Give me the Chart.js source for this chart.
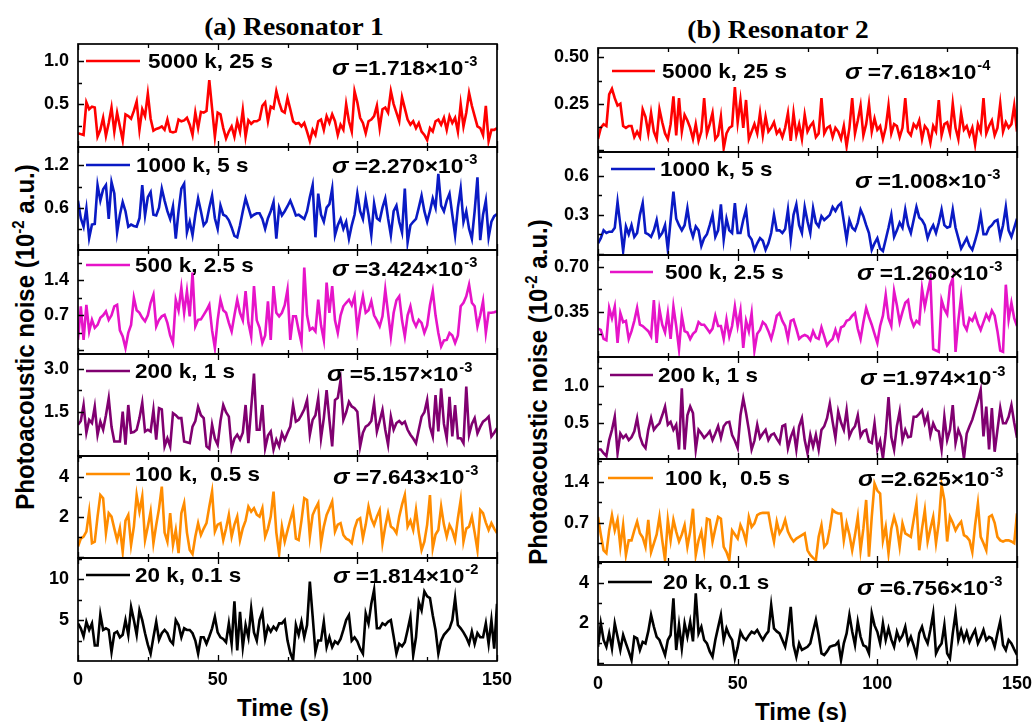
<!DOCTYPE html>
<html>
<head>
<meta charset="utf-8">
<script src="https://cdn.jsdelivr.net/npm/chart.js@4.4.1/dist/chart.umd.min.js"></script>
<style>
  html, body { margin: 0; padding: 0; background: #fff; }
  #fig { position: relative; width: 1033px; height: 722px; overflow: hidden; background: #fff; }
  #fig canvas { position: absolute; }
  .txt { position: absolute; white-space: nowrap; color: #000; font-family: "Liberation Sans", Arial, sans-serif; font-weight: bold; line-height: 1; }
  .ttl { font-family: "Liberation Serif", "Times New Roman", serif; font-size: 25px; transform: translate(-50%, -50%) scaleX(1.1); }
  .ylab { font-size: 24px; transform: translate(-50%, -50%) rotate(-90deg) scaleY(1.1); }
  .xlab { font-size: 23px; transform: translate(-50%, -50%) scaleX(1.05); }
  .sup { font-size: 15px; position: relative; top: -9px; }
</style>
</head>
<body>
<div id="fig">
  <div class="txt ttl" style="left:294px; top:26px;">(a) Resonator 1</div>
  <div class="txt ttl" style="left:778px; top:29px;">(b) Resonator 2</div>
  <div class="txt ylab" style="left:25px; top:337px;">Photoacoustic noise (10<span class="sup">-2</span> a.u.)</div>
  <div class="txt ylab" style="left:538px; top:392px;">Photoacoustic noise (10<span class="sup">-2</span> a.u.)</div>
  <div class="txt xlab" style="left:283px; top:708px;">Time (s)</div>
  <div class="txt xlab" style="left:801px; top:712px;">Time (s)</div>
</div>
<script>
// ---- time axis ----
const timeTicks = [0, 50, 100, 150];

// ---- series labels (sampling points, integration time) ----
const seriesNames = ['5000 k, 25 s', '1000 k, 5 s', '500 k, 2.5 s', '200 k, 1 s', '100 k,  0.5 s', '20 k, 0.1 s'];
const seriesColors = ['#FF0000', '#0A1AC4', '#E614C8', '#800070', '#FF8C00', '#000000'];

// ---- standard deviation annotations ----
const res1Sigma = ['1.718', '2.270', '3.424', '5.157', '7.643', '1.814'];
const res1SigmaExp = ['-3', '-3', '-3', '-3', '-3', '-2'];
const res2Sigma = ['7.618', '1.008', '1.260', '1.974', '2.625', '6.756'];
const res2SigmaExp = ['-4', '-3', '-3', '-3', '-3', '-3'];

// ---- y tick values / labels per panel (top to bottom) ----
const res1Ticks = [[0.5, 1.0], [0.6, 1.2], [0.7, 1.4], [1.5, 3.0], [2, 4], [5, 10]];
const res1TickLabels = [['0.5', '1.0'], ['0.6', '1.2'], ['0.7', '1.4'], ['1.5', '3.0'], ['2', '4'], ['5', '10']];
const res1Range = [[0, 1.2], [0, 1.46], [-0.07, 2.0], [0, 3.5], [-0.07, 5.03], [0, 12.6]];
const res2Ticks = [[0.25, 0.50], [0.3, 0.6], [0.35, 0.70], [0.5, 1.0], [0.7, 1.4], [2, 4]];
const res2TickLabels = [['0.25', '0.50'], ['0.3', '0.6'], ['0.35', '0.70'], ['0.5', '1.0'], ['0.7', '1.4'], ['2', '4']];
const res2Range = [[-0.01, 0.55], [-0.01, 0.785], [0, 0.79], [0, 1.4], [0.03, 1.79], [-0.08, 5.07]];

// ---- Resonator 1 noise traces (10^-2 a.u.), one value per second, 0..150 s ----
const r1_5000k = [
  0.16,0.15,0.14,0.52,0.44,0.47,0.46,0.12,0.20,0.34,
  0.13,0.28,0.46,0.18,0.40,0.24,0.08,0.38,0.36,0.33,
  0.42,0.53,0.20,0.44,0.36,0.62,0.33,0.19,0.21,0.22,
  0.24,0.20,0.32,0.18,0.17,0.18,0.32,0.30,0.31,0.34,
  0.26,0.14,0.40,0.22,0.41,0.40,0.42,0.78,0.45,0.12,
  0.40,0.38,0.22,0.10,0.18,0.24,0.12,0.30,0.18,0.43,
  0.12,0.31,0.27,0.30,0.30,0.32,0.48,0.52,0.30,0.47,
  0.45,0.65,0.52,0.42,0.40,0.57,0.44,0.30,0.27,0.28,
  0.24,0.28,0.18,0.07,0.20,0.14,0.30,0.32,0.20,0.36,
  0.28,0.38,0.30,0.14,0.26,0.20,0.50,0.30,0.18,0.65,
  0.52,0.34,0.28,0.16,0.30,0.32,0.36,0.48,0.22,0.44,
  0.46,0.40,0.65,0.50,0.40,0.30,0.58,0.45,0.32,0.26,
  0.30,0.22,0.28,0.18,0.14,0.08,0.22,0.18,0.30,0.32,
  0.26,0.34,0.20,0.36,0.28,0.34,0.18,0.50,0.24,0.40,
  0.63,0.48,0.36,0.24,0.22,0.14,0.48,0.07,0.20,0.20,
  0.22];
const r1_1000k = [
  0.70,0.45,0.33,0.59,0.17,0.36,0.37,0.92,0.70,0.86,
  0.92,0.44,0.96,0.80,0.25,0.50,0.68,0.55,0.33,0.36,
  0.34,0.33,0.45,0.92,0.49,0.75,0.82,0.50,0.49,0.60,
  0.87,0.70,0.55,0.44,0.62,0.16,0.55,0.87,0.94,0.25,
  0.40,0.21,0.50,0.73,0.55,0.35,0.40,0.60,0.77,0.45,
  0.30,0.63,0.50,0.48,0.42,0.32,0.20,0.18,0.35,0.55,
  0.73,0.60,0.47,0.50,0.52,0.52,0.44,0.30,0.45,0.55,
  0.68,0.16,0.60,0.49,0.55,0.62,0.70,0.60,0.49,0.50,
  0.47,0.44,0.55,0.75,0.92,0.18,0.80,0.50,0.40,0.60,
  0.65,0.87,0.21,0.35,0.44,0.30,0.40,0.16,0.35,0.50,
  0.80,0.55,0.44,0.73,0.50,0.21,0.66,0.45,0.42,0.60,
  0.73,0.45,0.21,0.55,0.63,0.40,0.25,0.87,0.11,0.35,
  0.40,0.44,0.60,0.77,0.55,0.40,0.55,0.73,0.60,1.08,
  0.63,0.55,0.70,0.80,0.50,0.21,0.60,0.87,0.40,0.55,
  0.30,0.16,0.55,1.03,0.14,0.50,0.70,0.18,0.40,0.48,
  0.51];
const r1_500k = [
  0.21,0.88,0.21,0.91,0.38,0.61,0.45,0.51,0.65,0.70,
  0.78,0.61,0.70,0.88,0.91,0.40,0.28,0.05,0.35,0.51,
  1.05,0.80,0.75,0.65,0.58,0.70,0.95,1.11,0.48,0.61,
  0.68,0.71,0.55,0.30,0.15,1.01,0.80,1.25,0.75,1.18,
  0.68,1.55,0.48,0.61,0.62,0.71,0.80,0.91,0.40,0.05,
  0.61,1.01,0.80,0.75,0.55,0.38,0.70,1.01,0.75,0.60,
  1.18,0.55,0.28,1.28,0.60,0.45,0.15,0.30,0.98,0.21,
  1.28,0.75,0.68,0.75,0.90,1.21,0.21,0.68,0.68,0.40,
  0.15,1.65,0.70,0.41,0.45,0.38,1.01,0.50,0.21,1.35,
  0.75,1.28,0.60,0.35,0.70,0.88,0.95,1.01,0.90,1.08,
  0.41,0.80,1.08,0.75,0.80,0.98,0.70,0.60,0.48,0.68,
  1.21,0.75,0.28,0.75,1.00,1.08,0.60,0.28,0.70,0.88,
  0.60,0.48,0.61,0.55,0.35,0.50,0.90,1.18,0.70,0.35,
  0.08,0.20,0.21,0.35,0.30,0.15,0.30,0.88,0.95,1.08,
  1.31,0.95,0.88,0.48,0.70,0.98,0.35,0.75,0.75,0.76,
  0.78];
const r1_200k = [
  1.07,1.20,1.75,0.80,1.24,1.13,1.69,0.73,1.18,0.90,
  1.40,1.98,1.00,0.50,0.50,0.50,1.52,0.39,1.75,0.80,
  0.82,0.90,1.30,1.83,0.84,0.90,0.84,1.58,0.56,1.64,
  1.60,0.33,0.61,0.33,1.47,1.40,1.30,1.30,0.50,0.47,
  0.44,1.01,1.20,1.69,1.40,1.30,0.33,0.25,1.07,0.60,
  0.39,1.20,1.75,1.50,1.35,0.27,0.60,0.73,0.56,0.80,
  1.75,0.44,1.64,2.83,0.90,0.90,1.75,0.27,0.70,0.84,
  0.22,0.56,0.33,0.78,0.56,0.80,1.01,1.75,1.18,1.24,
  1.41,1.60,1.92,0.73,1.24,1.40,1.98,0.61,1.30,2.26,
  1.24,0.33,1.92,2.00,2.60,1.24,1.50,1.86,1.70,1.64,
  1.52,0.33,0.80,1.01,1.07,1.20,1.81,0.84,1.20,1.58,
  0.90,0.39,1.35,0.90,1.13,1.20,1.10,1.18,0.90,0.73,
  0.60,0.44,0.90,1.35,1.50,1.92,1.00,0.67,2.09,0.84,
  2.32,1.10,0.61,2.03,0.67,1.75,0.61,0.61,0.44,2.38,
  0.73,1.10,1.30,0.78,1.00,1.18,1.25,1.35,0.67,0.80,
  0.95];
const r1_100k = [
  0.50,0.90,1.00,1.25,2.25,0.67,0.75,2.00,3.08,2.92,
  1.17,2.17,2.00,1.40,0.83,1.42,0.25,1.80,2.08,0.58,
  1.50,3.08,2.25,3.00,0.83,1.50,2.25,0.67,1.58,2.40,
  3.50,1.20,0.75,2.17,0.58,1.33,0.17,2.17,2.67,1.20,
  0.33,0.13,1.00,1.67,1.08,1.40,1.67,2.50,3.25,1.25,
  1.60,1.67,0.83,1.40,2.08,1.00,1.60,2.00,0.83,1.42,
  1.80,2.50,2.25,2.42,2.10,2.00,2.42,1.00,1.40,2.00,
  3.25,1.20,0.13,1.50,0.75,1.30,1.83,2.33,0.90,0.83,
  1.80,2.92,2.83,1.00,2.08,2.40,2.67,0.67,1.50,2.08,
  2.40,2.75,1.25,1.60,1.67,1.08,0.90,0.83,0.67,1.40,
  1.83,1.92,0.92,1.60,2.50,1.90,1.58,2.00,2.33,0.67,
  1.50,2.17,1.50,1.40,1.17,2.00,2.60,3.08,1.50,1.80,
  1.33,2.33,1.20,0.33,0.75,1.60,3.08,0.42,1.10,1.33,
  2.50,1.60,1.00,1.58,1.30,0.83,1.92,2.83,0.75,1.40,
  1.50,2.00,1.20,0.33,2.33,2.17,1.70,1.33,1.67,1.40,
  1.17];
const r1_20k = [
  4.6,4.0,3.0,4.8,3.8,4.6,1.9,1.9,5.7,3.8,
  4.0,3.8,1.1,3.4,3.6,2.9,3.2,5.0,3.2,6.6,
  5.0,3.2,6.2,5.0,3.4,2.0,0.9,2.9,4.8,2.6,
  3.4,3.8,3.4,2.5,2.1,5.0,4.4,2.9,4.0,3.8,
  3.8,3.4,2.5,0.9,2.9,2.9,2.1,3.0,4.0,5.4,
  3.5,2.9,2.7,2.3,4.6,2.1,7.3,1.3,6.0,1.7,
  4.4,2.9,6.4,3.5,2.5,5.0,6.0,2.7,4.2,3.6,
  4.2,3.8,4.6,4.6,5.0,2.5,1.0,0.1,4.4,3.2,
  4.8,2.9,4.4,9.7,5.5,1.1,2.5,2.5,4.8,1.7,
  2.9,1.7,2.4,2.1,2.7,3.8,5.0,5.6,2.5,2.9,
  2.4,1.5,0.9,5.8,4.6,7.0,8.7,4.0,4.0,4.6,
  4.4,4.8,5.0,3.0,0.9,2.1,1.8,2.3,3.8,5.4,
  0.7,2.9,7.2,6.2,8.5,7.9,7.7,5.6,3.8,0.9,
  2.5,3.2,3.6,4.0,5.0,7.7,4.4,4.0,3.5,2.9,
  2.1,3.6,2.1,3.4,2.9,2.9,4.6,2.1,5.0,1.5,
  7.0];

// ---- Resonator 2 noise traces (10^-2 a.u.) ----
const r2_5000k = [
  0.06,0.12,0.14,0.13,0.30,0.33,0.28,0.24,0.25,0.13,
  0.12,0.13,0.13,0.07,0.10,0.07,0.22,0.18,0.09,0.20,
  0.10,0.06,0.22,0.15,0.09,0.06,0.14,0.29,0.08,0.28,
  0.10,0.19,0.16,0.12,0.06,0.14,0.05,0.10,0.28,0.09,
  0.14,0.20,0.06,0.08,0.18,0.01,0.09,0.12,0.13,0.34,
  0.15,0.27,0.12,0.27,0.06,0.10,0.14,0.09,0.20,0.08,
  0.18,0.10,0.12,0.15,0.09,0.11,0.07,0.12,0.20,0.05,
  0.20,0.08,0.14,0.06,0.19,0.10,0.13,0.15,0.07,0.09,
  0.28,0.09,0.12,0.13,0.07,0.12,0.10,0.06,0.13,0.02,
  0.12,0.28,0.09,0.16,0.24,0.08,0.14,0.25,0.10,0.17,
  0.11,0.13,0.06,0.12,0.24,0.09,0.14,0.13,0.07,0.12,
  0.28,0.10,0.08,0.14,0.12,0.16,0.06,0.13,0.11,0.04,
  0.13,0.10,0.27,0.08,0.14,0.15,0.09,0.25,0.12,0.06,
  0.20,0.11,0.13,0.08,0.12,0.03,0.14,0.10,0.28,0.09,
  0.13,0.16,0.08,0.12,0.25,0.10,0.15,0.12,0.14,0.24,
  0.10];
const r2_1000k = [
  0.08,0.12,0.18,0.16,0.17,0.17,0.20,0.40,0.22,0.02,
  0.21,0.15,0.22,0.13,0.16,0.30,0.39,0.16,0.15,0.13,
  0.18,0.26,0.13,0.16,0.22,0.03,0.26,0.48,0.27,0.22,
  0.18,0.22,0.35,0.20,0.13,0.21,0.18,0.06,0.12,0.15,
  0.22,0.30,0.13,0.18,0.38,0.11,0.27,0.18,0.16,0.39,
  0.16,0.16,0.26,0.34,0.14,0.11,0.03,0.08,0.12,0.10,
  0.03,0.08,0.16,0.30,0.18,0.18,0.16,0.19,0.34,0.11,
  0.30,0.38,0.22,0.16,0.36,0.25,0.16,0.35,0.24,0.21,
  0.29,0.26,0.28,0.30,0.36,0.33,0.37,0.39,0.25,0.11,
  0.26,0.20,0.18,0.24,0.34,0.29,0.22,0.16,0.03,0.08,
  0.12,0.04,0.02,0.11,0.20,0.30,0.13,0.18,0.24,0.20,
  0.34,0.22,0.16,0.26,0.36,0.28,0.26,0.22,0.12,0.18,
  0.22,0.16,0.24,0.34,0.22,0.20,0.21,0.34,0.20,0.12,
  0.04,0.08,0.12,0.06,0.03,0.10,0.18,0.30,0.15,0.15,
  0.20,0.22,0.25,0.26,0.13,0.22,0.36,0.18,0.13,0.20,
  0.27];
const r2_500k = [
  0.22,0.21,0.14,0.13,0.38,0.30,0.39,0.11,0.34,0.27,
  0.28,0.14,0.20,0.28,0.38,0.25,0.24,0.22,0.20,0.16,
  0.44,0.11,0.37,0.25,0.19,0.34,0.14,0.39,0.24,0.06,
  0.32,0.20,0.19,0.14,0.18,0.20,0.27,0.25,0.25,0.22,
  0.19,0.22,0.32,0.24,0.24,0.14,0.29,0.16,0.24,0.39,
  0.24,0.36,0.07,0.28,0.20,0.34,0.05,0.18,0.21,0.27,
  0.25,0.20,0.14,0.22,0.32,0.34,0.28,0.24,0.14,0.28,
  0.29,0.22,0.14,0.16,0.17,0.16,0.13,0.20,0.15,0.14,
  0.23,0.16,0.09,0.12,0.14,0.21,0.14,0.23,0.24,0.28,
  0.29,0.32,0.34,0.22,0.14,0.27,0.38,0.31,0.25,0.18,
  0.11,0.24,0.32,0.48,0.30,0.24,0.51,0.40,0.27,0.35,
  0.42,0.44,0.30,0.24,0.28,0.26,0.53,0.39,0.50,0.60,
  0.06,0.05,0.04,0.44,0.37,0.33,0.55,0.61,0.04,0.28,
  0.47,0.25,0.21,0.30,0.28,0.33,0.26,0.21,0.27,0.33,
  0.29,0.36,0.32,0.20,0.05,0.04,0.56,0.29,0.42,0.30,
  0.24];
const r2_200k = [
  0.13,0.13,0.08,0.04,0.26,0.40,0.58,0.08,0.35,0.29,
  0.33,0.26,0.30,0.38,0.56,0.31,0.20,0.15,0.40,0.56,
  0.40,0.45,0.49,0.60,0.72,0.47,0.51,0.40,0.47,0.13,
  0.97,0.13,0.60,0.72,0.63,0.13,0.40,0.35,0.29,0.33,
  0.38,0.26,0.35,0.45,0.29,0.45,0.50,0.51,0.33,0.25,
  0.15,0.60,0.83,0.63,0.40,0.13,0.25,0.47,0.29,0.35,
  0.40,0.26,0.33,0.35,0.28,0.22,0.45,0.47,0.15,0.30,
  0.40,0.13,0.45,0.56,0.26,0.08,0.33,0.17,0.33,0.13,
  0.40,0.45,0.56,0.76,0.51,0.29,0.65,0.50,0.40,0.67,
  0.31,0.40,0.45,0.60,0.31,0.38,0.40,0.24,0.22,0.49,
  0.13,0.25,0.01,0.35,0.85,0.30,0.13,0.45,0.65,0.26,
  0.40,0.30,0.31,0.58,0.58,0.62,0.67,0.49,0.60,0.33,
  0.49,0.40,0.38,0.13,0.58,0.26,0.40,0.74,0.22,0.40,
  0.30,0.01,0.35,0.45,0.54,0.67,0.80,0.95,0.31,0.72,
  0.13,0.70,0.10,0.40,0.70,0.49,0.49,0.58,0.74,0.50,
  0.29];
const r2_100k = [
  0.80,0.50,0.23,0.18,0.57,0.83,0.57,0.75,0.29,0.66,
  0.15,0.40,0.40,0.57,0.72,0.52,0.45,0.29,0.75,0.20,
  0.35,0.50,0.80,0.40,0.06,0.75,0.40,0.75,0.55,0.38,
  0.50,0.66,0.29,0.55,0.94,0.15,0.40,0.55,0.23,0.77,
  0.75,0.38,0.60,0.80,0.77,0.29,0.20,0.06,0.57,0.50,
  0.43,0.66,0.55,0.38,0.80,0.63,0.69,0.83,0.86,0.87,
  0.87,0.87,0.60,0.38,0.72,0.52,0.60,0.75,0.55,0.45,
  0.38,0.43,0.46,0.49,0.52,0.23,0.15,0.10,0.06,0.46,
  0.66,0.29,0.35,0.60,0.92,0.88,0.86,0.86,0.40,0.69,
  0.50,0.23,0.49,0.80,0.23,0.60,1.09,0.12,0.80,1.37,
  1.25,1.20,0.40,0.63,0.18,0.60,0.80,0.63,0.29,0.69,
  0.52,0.49,0.46,0.75,1.03,0.23,0.60,0.92,0.38,0.60,
  0.80,0.35,0.70,1.34,1.09,0.38,0.80,0.70,0.57,0.66,
  0.72,0.49,0.46,0.40,0.20,0.66,1.03,0.46,0.35,0.23,
  0.80,0.83,0.70,0.46,0.40,0.38,0.40,0.40,0.38,0.35,
  0.86];
const r2_20k = [
  0.83,2.00,1.17,0.83,1.50,0.75,2.00,1.33,0.67,1.42,
  1.00,0.60,0.17,1.33,1.25,0.67,1.08,1.00,1.60,2.42,
  1.83,1.33,1.17,0.80,0.42,1.17,1.42,3.25,0.67,1.92,
  0.75,2.00,1.33,2.08,1.10,3.50,1.50,1.83,1.17,1.00,
  0.60,0.33,1.17,1.80,2.42,1.17,1.75,1.40,1.17,0.25,
  0.80,1.58,1.30,1.17,1.40,1.58,1.50,1.67,1.40,1.17,
  1.42,1.60,2.92,1.75,1.60,1.50,1.17,0.83,1.58,2.83,
  0.90,0.33,1.00,0.67,0.75,0.83,1.00,1.60,2.17,1.42,
  0.50,0.42,0.60,0.83,0.88,0.92,1.08,0.17,1.00,1.50,
  2.42,1.60,0.92,2.08,1.33,0.90,0.83,0.50,2.50,1.90,
  1.58,1.00,2.00,1.17,1.75,1.20,0.83,1.58,1.17,1.40,
  1.83,1.00,1.33,0.90,0.42,1.50,1.83,1.30,1.00,1.70,
  2.50,0.50,0.80,1.00,1.92,0.50,0.25,1.50,2.50,1.17,
  1.67,1.17,1.58,1.08,1.40,1.67,1.00,1.30,1.67,1.17,
  1.33,1.25,0.83,1.50,2.10,0.92,0.67,1.17,1.00,0.70,
  0.42];

const res1Series = [r1_5000k, r1_1000k, r1_500k, r1_200k, r1_100k, r1_20k];
const res2Series = [r2_5000k, r2_1000k, r2_500k, r2_200k, r2_100k, r2_20k];

// ---- page layout (pixels) ----
const FONT = '"Liberation Sans", Arial, sans-serif';
const columns = [
  { x0: 78, x1: 497, edges: [44, 147, 250, 354, 456, 558, 661],
    series: res1Series, ticks: res1Ticks, tickLabels: res1TickLabels, range: res1Range,
    sigma: res1Sigma, sigmaExp: res1SigmaExp,
    legY: [61, 165, 265, 371, 474, 575], legX0: [86, 86, 86, 86, 86, 86], legX1: [140, 130, 130, 130, 130, 130],
    legTx: [148, 136, 135, 135, 135, 135],
    sigX: [332, 332, 332, 327, 333, 333], sigY: [67, 165, 268, 373, 476, 575] },
  { x0: 598, x1: 1017, edges: [48, 152, 255, 357, 459, 562, 665],
    series: res2Series, ticks: res2Ticks, tickLabels: res2TickLabels, range: res2Range,
    sigma: res2Sigma, sigmaExp: res2SigmaExp,
    legY: [71, 169, 272, 375, 478, 582], legX0: [612, 611, 610, 610, 608, 608], legX1: [655, 655, 653, 653, 653, 652],
    legTx: [662, 660, 665, 658, 665, 663],
    sigX: [845, 855, 857, 860, 858, 857], sigY: [71, 180, 272, 377, 478, 587] }
];

const AXIS_W = 78, PAD_T = 12, PAD_B = 12, PAD_R = 20, XAXIS_H = 32;

function stretchText(ctx, str, x, y, font, sx) {
  ctx.save();
  ctx.font = font;
  ctx.translate(x, y);
  ctx.scale(sx, 1);
  ctx.fillText(str, 0, 0);
  const w = ctx.measureText(str).width * sx;
  ctx.restore();
  return w;
}

// frame, inward ticks, legend entry and sigma annotation for each panel
const panelDeco = {
  id: 'panelDeco',
  afterDatasetsDraw(chart, args, o) {
    const { ctx, chartArea: a } = chart;
    const xs = chart.scales.x, ys = chart.scales.y;
    ctx.save();
    ctx.strokeStyle = '#000';
    ctx.lineWidth = 1.3;
    ctx.beginPath();
    for (let v = 0; v <= 150; v += 25) {
      const px = Math.round(xs.getPixelForValue(v)) + 0.5;
      const len = v % 50 === 0 ? 6 : 4;
      ctx.moveTo(px, a.bottom); ctx.lineTo(px, a.bottom - len);
      ctx.moveTo(px, a.top); ctx.lineTo(px, a.top + len);
    }
    const tv = o.ticks, half = (tv[1] - tv[0]) / 2;
    for (let k = -8; k <= 12; k++) {
      const v = tv[0] + k * half;
      if (v < ys.min + 1e-9 || v > ys.max - 1e-9) continue;
      const py = Math.round(ys.getPixelForValue(v)) + 0.5;
      const len = k % 2 === 0 ? 6 : 4;
      ctx.moveTo(a.left, py); ctx.lineTo(a.left + len, py);
    }
    ctx.stroke();
    ctx.lineWidth = 1.7;
    ctx.strokeRect(a.left, a.top, a.right - a.left, a.bottom - a.top);

    // legend entry
    const ox = o.offX, oy = o.offY;
    ctx.strokeStyle = o.color;
    ctx.lineWidth = 2.6;
    ctx.beginPath();
    ctx.moveTo(o.legX0 - ox, o.legY - oy);
    ctx.lineTo(o.legX1 - ox, o.legY - oy);
    ctx.stroke();
    ctx.fillStyle = '#000';
    ctx.textBaseline = 'middle';
    ctx.textAlign = 'left';
    stretchText(ctx, o.name, o.legTx - ox, o.legY - oy + 1, 'bold 21px ' + FONT, 1.07);

    // sigma annotation
    ctx.textBaseline = 'alphabetic';
    const base = o.sigY - oy + 8;
    let x = o.sigX - ox;
    x += stretchText(ctx, '\u03C3', x, base, 'italic bold 23px ' + FONT, 1.08);
    x += stretchText(ctx, ' =' + o.sigma + '\u00D710', x, base, 'bold 21px ' + FONT, 1.08);
    stretchText(ctx, o.sigmaExp, x + 1, base - 9, 'bold 14px ' + FONT, 1.05);
    ctx.restore();
  }
};

const fig = document.getElementById('fig');

columns.forEach((col, ci) => {
  for (let i = 0; i < 6; i++) {
    const isBottom = i === 5;
    const top = col.edges[i], bottom = col.edges[i + 1];
    const h = bottom - top;
    const cw = AXIS_W + (col.x1 - col.x0) + PAD_R;
    const chH = PAD_T + h + (isBottom ? XAXIS_H + 8 : PAD_B);
    const left = col.x0 - AXIS_W, cTop = top - PAD_T;
    const cv = document.createElement('canvas');
    cv.width = cw; cv.height = chH;
    cv.style.left = left + 'px'; cv.style.top = cTop + 'px';
    cv.style.width = cw + 'px'; cv.style.height = chH + 'px';
    fig.appendChild(cv);

    const values = col.series[i];
    const tv = col.ticks[i], tl = col.tickLabels[i], rg = col.range[i];
    new Chart(cv, {
      type: 'line',
      data: {
        datasets: [{
          data: values.map((v, k) => ({ x: k, y: v })),
          borderColor: seriesColors[i],
          borderWidth: 2.6,
          pointRadius: 0,
          tension: 0,
          fill: false
        }]
      },
      options: {
        responsive: false,
        animation: false,
        devicePixelRatio: 1,
        events: [],
        layout: { padding: { top: PAD_T, right: PAD_R, bottom: isBottom ? 8 : PAD_B, left: 0 } },
        plugins: {
          legend: { display: false },
          tooltip: { enabled: false },
          panelDeco: {
            offX: left, offY: cTop, color: seriesColors[i], name: seriesNames[i], ticks: tv,
            legX0: col.legX0[i], legX1: col.legX1[i], legY: col.legY[i], legTx: col.legTx[i],
            sigX: col.sigX[i], sigY: col.sigY[i], sigma: col.sigma[i], sigmaExp: col.sigmaExp[i]
          }
        },
        scales: {
          x: {
            type: 'linear', min: 0, max: 150,
            grid: { display: false, drawTicks: false },
            border: { display: false },
            afterBuildTicks: s => { s.ticks = timeTicks.map(v => ({ value: v })); },
            afterFit: s => { s.height = isBottom ? XAXIS_H : 0; s.paddingLeft = 0; s.paddingRight = 0; },
            ticks: {
              display: isBottom, autoSkip: false, maxRotation: 0, padding: 8, color: '#000',
              font: { family: FONT, weight: 'bold', size: 18 }
            }
          },
          y: {
            type: 'linear', min: rg[0], max: rg[1],
            grid: { display: false, drawTicks: false },
            border: { display: false },
            afterBuildTicks: s => { s.ticks = tv.map(v => ({ value: v })); },
            afterFit: s => { s.width = AXIS_W; s.paddingTop = 0; s.paddingBottom = 0; },
            ticks: {
              autoSkip: false, padding: 9, color: '#000',
              font: { family: FONT, weight: 'bold', size: 18 },
              callback: (v, idx) => tl[idx]
            }
          }
        }
      },
      plugins: [panelDeco]
    });
  }
});
</script>
</body>
</html>
